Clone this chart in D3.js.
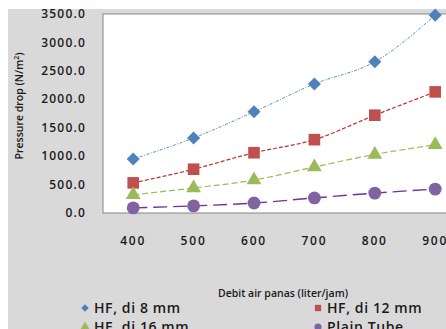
<!DOCTYPE html>
<html>
<head>
<meta charset="utf-8">
<script src="https://cdn.jsdelivr.net/npm/d3@7"></script>
<style>
  body { margin: 0; background: #fff; }
  text { font-family: "Open Sans", "DejaVu Sans", sans-serif; fill: #1a1a1a; }
</style>
</head>
<body>
<svg id="chart" width="446" height="329"></svg>
<script>
const debit = [400, 500, 600, 700, 800, 900];
const hf8 = [950, 1320, 1780, 2270, 2660, 3480];
const hf12 = [530, 770, 1060, 1290, 1720, 2130];
const hf16 = [320, 440, 580, 810, 1030, 1200];
const plain = [90, 125, 175, 265, 350, 420];
const yTicks = [0, 500, 1000, 1500, 2000, 2500, 3000, 3500];

const series = [
  { name: "HF, di 8 mm", values: hf8, color: "#4f81bd", line: "#5b8fc9", dash: "3,1.5,1,1.5", width: 1, shape: d3.symbolSquare, rot: 45, size: 85 },
  { name: "HF, di 12 mm", values: hf12, color: "#c0504d", line: "#c0302d", dash: "4,2", width: 1.2, shape: d3.symbolSquare, rot: 0, size: 135 },
  { name: "HF, di 16 mm", values: hf16, color: "#9bbb59", line: "#9bbb59", dash: "6,3", width: 1.2, shape: d3.symbolTriangle, rot: 0, size: 95 },
  { name: "Plain Tube", values: plain, color: "#8064a2", line: "#7030a0", dash: "14,6", width: 1.4, shape: d3.symbolCircle, rot: 0, size: 130 }
];

const svg = d3.select("#chart");

const plot = { left: 103, top: 14, bottom: 213, band: 60.4 };

svg.append("rect")
  .attr("x", 8).attr("y", 9)
  .attr("width", 446).attr("height", 329)
  .attr("fill", "#d9d9d9");

const x = d3.scaleBand()
  .domain(debit)
  .range([plot.left, plot.left + plot.band * debit.length]);

const y = d3.scaleLinear()
  .domain([0, 3500])
  .range([plot.bottom, plot.top]);

svg.append("rect")
  .attr("x", plot.left).attr("y", plot.top)
  .attr("width", plot.band * debit.length).attr("height", plot.bottom - plot.top)
  .attr("fill", "#fff")
  .attr("stroke", "#868686")
  .attr("stroke-width", 1);

// y tick labels
svg.append("g")
  .selectAll("text")
  .data(yTicks)
  .enter()
  .append("text")
  .attr("x", 86)
  .attr("y", d => y(d))
  .attr("dy", "0.35em")
  .attr("text-anchor", "end")
  .attr("font-size", "12px")
  .attr("font-weight", 600)
  .attr("letter-spacing", "1.2px")
  .text(d => d3.format(".1f")(d));

// x tick labels
svg.append("g")
  .selectAll("text")
  .data(debit)
  .enter()
  .append("text")
  .attr("x", d => x(d) + x.bandwidth() / 2)
  .attr("y", 241)
  .attr("dy", "0.35em")
  .attr("text-anchor", "middle")
  .attr("font-size", "12px")
  .attr("font-weight", 600)
  .attr("letter-spacing", "1.8px")
  .text(d => d);

svg.append("text")
  .attr("x", 283)
  .attr("y", 293)
  .attr("dy", "0.35em")
  .attr("text-anchor", "middle")
  .attr("font-size", "10.5px")
  .attr("font-weight", 600)
  .text("Debit air panas (liter/jam)");

const yTitle = svg.append("text")
  .attr("transform", "translate(19,106) rotate(-90)")
  .attr("dy", "0.35em")
  .attr("text-anchor", "middle")
  .attr("font-size", "10.5px")
  .attr("font-weight", 600);
yTitle.append("tspan").text("Pressure drop (N/m");
yTitle.append("tspan").attr("font-size", "7px").attr("dy", "-4").text("2");
yTitle.append("tspan").attr("dy", "4").text(")");

const line = d3.line()
  .x((d, i) => x(debit[i]) + x.bandwidth() / 2)
  .y(d => y(d))
  .curve(d3.curveMonotoneX);

series.forEach(s => {
  svg.append("path")
    .datum(s.values)
    .attr("d", line)
    .attr("fill", "none")
    .attr("stroke", s.line)
    .attr("stroke-width", s.width)
    .attr("stroke-dasharray", s.dash);

  svg.append("g")
    .selectAll("path")
    .data(s.values)
    .enter()
    .append("path")
    .attr("transform", (d, i) => `translate(${x(debit[i]) + x.bandwidth() / 2},${y(d)}) rotate(${s.rot})`)
    .attr("d", d3.symbol().type(s.shape).size(s.size))
    .attr("fill", s.color);
});

// legend
const legendPos = [[85, 308], [318, 308], [85, 327], [318, 327]];
series.forEach((s, i) => {
  const [lx, ly] = legendPos[i];
  svg.append("path")
    .attr("transform", `translate(${lx},${ly}) rotate(${s.rot})`)
    .attr("d", d3.symbol().type(s.shape).size(s.rot ? 28 : 40))
    .attr("fill", s.color);
  svg.append("text")
    .attr("x", lx + 9)
    .attr("y", ly)
    .attr("dy", "0.35em")
    .attr("font-size", "14px")
    .attr("font-weight", 600)
    .attr("letter-spacing", "0.6px")
    .text(s.name);
});
</script>
</body>
</html>
